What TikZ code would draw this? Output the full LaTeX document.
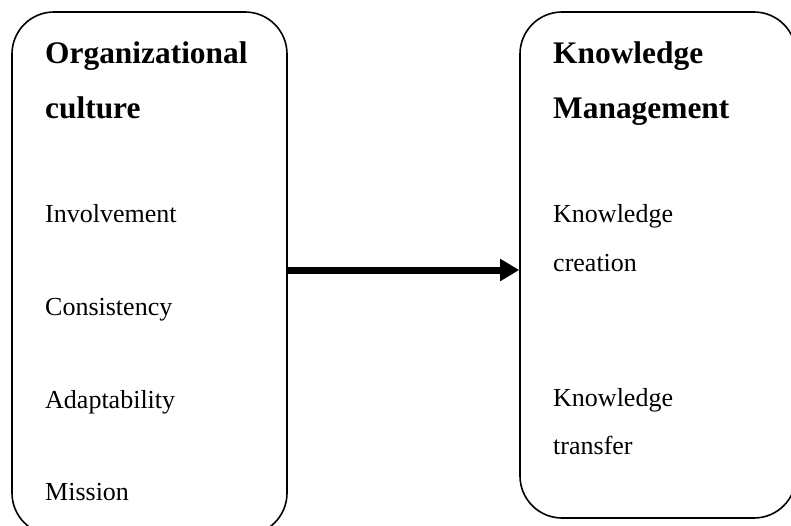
\documentclass[tikz,border=0pt]{standalone}
\usepackage{fontspec}
\setmainfont{Liberation Serif}
\usetikzlibrary{arrows.meta}
\begin{document}
\begin{tikzpicture}[x=1pt,y=-1pt,
  box/.style={draw=black, line width=1.6pt, rounded corners=42pt, inner sep=0pt},
  head/.style={anchor=base west, inner sep=0pt, font=\fontsize{31.4}{31.4}\selectfont\bfseries},
  item/.style={anchor=base west, inner sep=0pt, font=\fontsize{26}{26}\selectfont},
  link/.style={line width=7pt, -{Triangle[length=19pt,width=21pt]}}]
\useasboundingbox (0,0) rectangle (791,526);
\node[box, minimum width=275pt, minimum height=523pt] (L) at (149.5,273.5) {};
\node[box, minimum width=276pt, minimum height=506pt] (R) at (658,265) {};
\node[head] (l1) at (45,64) {Organizational};
\node[head] (l2) at (45,119) {culture};
\node[item] (l3) at (45,223) {Involvement};
\node[item] (l4) at (45,315) {Consistency};
\node[item] (l5) at (45,408) {Adaptability};
\node[item] (l6) at (45,500) {Mission};
\node[head] (r1) at (553,64) {Knowledge};
\node[head] (r2) at (553,119) {Management};
\node[item] (r3) at (553,223) {Knowledge};
\node[item] (r4) at (553,271) {creation};
\node[item] (r5) at (553,406) {Knowledge};
\node[item] (r6) at (553,454) {transfer};
\coordinate (ay) at (0,270);
\draw[link] (L.east |- ay) -- (R.west |- ay);
\end{tikzpicture}
\end{document}
